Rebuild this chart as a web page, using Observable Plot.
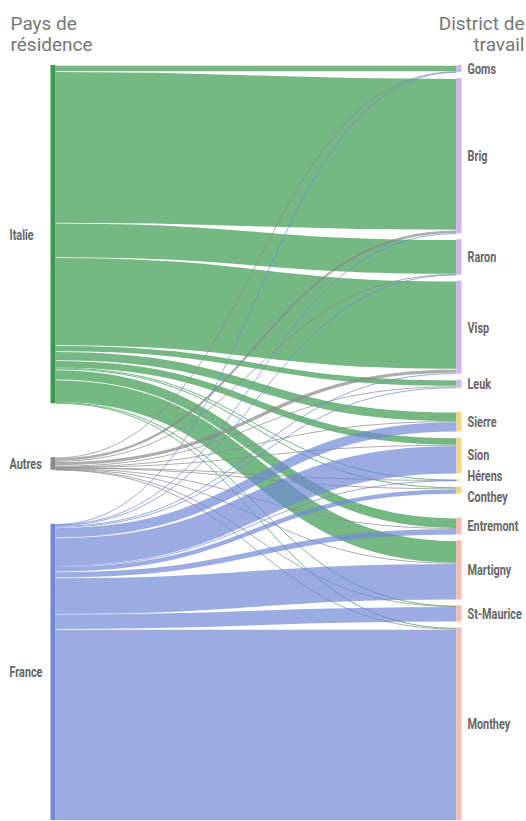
<!DOCTYPE html>
<html>
<head>
<meta charset="utf-8">
<script src="https://cdn.jsdelivr.net/npm/d3@7"></script>
<script src="https://cdn.jsdelivr.net/npm/@observablehq/plot@0.6"></script>
<style>
  html, body { margin: 0; padding: 0; background: #fff; }
  #chart svg { display: block; }
</style>
</head>
<body>
<div id="chart"></div>
<script>
// ---------- data ----------
const sources = ["Italie", "Autres", "France"];
const targets = ["Goms", "Brig", "Raron", "Visp", "Leuk", "Sierre", "Sion", "Hérens",
                 "Conthey", "Entremont", "Martigny", "St-Maurice", "Monthey"];
const targetRegion = ["Haut", "Haut", "Haut", "Haut", "Haut", "Centre", "Centre", "Centre",
                      "Centre", "Bas", "Bas", "Bas", "Bas"];
// flows from each country of residence to each work district (same order as targets)
const fromItalie = [60, 1500, 340, 870, 60, 90, 70, 5, 15, 100, 220, 5, 10];
const fromAutres = [5, 30, 5, 40, 10, 5, 5, 2, 5, 5, 5, 3, 5];
const fromFrance = [5, 5, 5, 10, 10, 100, 280, 5, 50, 60, 360, 150, 1890];
const titleLeft = "Pays de\nrésidence";
const titleRight = "District de\ntravail";

const colorDomain = ["Italie", "Autres", "France", "Haut", "Centre", "Bas"];
const colorRange = ["#3a9a4e", "#8a8a8a", "#6f89d6", "#d0b4f0", "#f5d686", "#f8b9ae"];

// ---------- sankey layout (computed) ----------
const flows = [fromItalie, fromAutres, fromFrance];
const W = 526, HT = 821;
const yRange = [65, 820];
const PAD_IN = 6, PAD_GROUP = 24;   // px spacing within / between regions
const left = sources.map(name => ({name, key: name}));
const right = targets.map((name, i) => ({name, key: targetRegion[i]}));
const links = [];
flows.forEach((arr, s) => arr.forEach((v, t) => links.push({source: left[s], target: right[t], value: v, key: sources[s]})));
left.forEach(n => { n.out = links.filter(l => l.source === n); n.value = d3.sum(n.out, l => l.value); });
right.forEach(n => { n.inn = links.filter(l => l.target === n); n.value = d3.sum(n.inn, l => l.value); });
const totalPx = yRange[1] - yRange[0];
let nIn = 0, nGroup = 0;
for (let i = 1; i < right.length; i++) (right[i].key === right[i - 1].key ? nIn++ : nGroup++);
const ky = (totalPx - nIn * PAD_IN - nGroup * PAD_GROUP) / d3.sum(right, n => n.value); // px per unit
const H = totalPx / ky; // column extent in value units
const gapL = (H - d3.sum(left, n => n.value)) / (left.length - 1);
let yy = 0;
left.forEach(n => { n.y0 = yy; n.y1 = yy + n.value; yy = n.y1 + gapL; });
yy = 0;
right.forEach((n, i) => {
  if (i > 0) yy += (n.key === right[i - 1].key ? PAD_IN : PAD_GROUP) / ky;
  n.y0 = yy; n.y1 = yy + n.value; yy = n.y1;
});
left.forEach(n => { let o = n.y0; n.out.forEach(l => { l.ys = o + l.value / 2; o += l.value; }); });
right.forEach(n => { let o = n.y0; n.inn.forEach(l => { l.yt = o + l.value / 2; o += l.value; }); });
// label positions: node centers, nudged apart when too close
const minSep = 21 / ky;
right.forEach(n => n.ly = (n.y0 + n.y1) / 2);
for (let it = 0; it < 40; it++) {
  for (let i = 1; i < right.length; i++) {
    const d = right[i].ly - right[i - 1].ly;
    if (d < minSep) { const s = (minSep - d) / 2; right[i].ly += s; right[i - 1].ly -= s; }
  }
}

const labelFont = 'Roboto, "Liberation Sans", sans-serif';
const titleFont = 'Roboto, "Noto Sans", sans-serif';

const chart = Plot.plot({
  width: W,
  height: HT,
  margin: 0,
  x: {domain: [0, 1], range: [55, 456], axis: null},
  y: {domain: [0, H], range: yRange, axis: null},
  color: {domain: colorDomain, range: colorRange},
  marks: [
    Plot.link(links, {
      x1: () => 0, x2: () => 1,
      y1: "ys", y2: "yt",
      curve: "bump-x",
      stroke: "key",
      strokeOpacity: 0.7,
      strokeWidth: d => Math.max(1, d.value * ky - 0.7)
    }),
    Plot.ruleX(left, {x: () => 0, dx: -2.5, y1: "y0", y2: "y1", stroke: "key", strokeWidth: 5}),
    Plot.ruleX(right, {x: () => 1, dx: 2.5, y1: "y0", y2: "y1", stroke: "key", strokeWidth: 5}),
    Plot.text(left, {x: () => 0, y: d => (d.y0 + d.y1) / 2, text: "name", dx: -46, textAnchor: "start",
      fill: "#666", fontWeight: "bold", fontSize: 15.5, fontFamily: labelFont}),
    Plot.text(right, {x: () => 1, y: "ly", text: "name", dx: 11, textAnchor: "start",
      fill: "#666", fontWeight: "bold", fontSize: 15.5, fontFamily: labelFont}),
    Plot.text([titleLeft], {frameAnchor: "top-left", text: d => d, dx: 10, dy: 14.5, lineAnchor: "top",
      textAnchor: "start", fontSize: 19, lineHeight: 1.1, fill: "#777", fontFamily: titleFont}),
    Plot.text([titleRight], {frameAnchor: "top-right", text: d => d, dx: -2, dy: 14.5, lineAnchor: "top",
      textAnchor: "end", fontSize: 19, lineHeight: 1.1, fill: "#777", fontFamily: titleFont})
  ]
});
document.getElementById("chart").append(chart);

// condense the node labels horizontally (no condensed font installed)
const textGroups = chart.querySelectorAll('g[aria-label="text"]');
[textGroups[0], textGroups[1]].forEach(g => {
  if (!g) return;
  g.querySelectorAll("text").forEach(t => {
    const xa = t.getAttribute("x");
    const x = xa && /^-?[\d.]+$/.test(xa) ? +xa : 0;
    const T = t.getAttribute("transform") || "";
    t.setAttribute("transform", `${T} translate(${x},0) scale(0.7,1) translate(${-x},0)`.trim());
  });
});
</script>
</body>
</html>
